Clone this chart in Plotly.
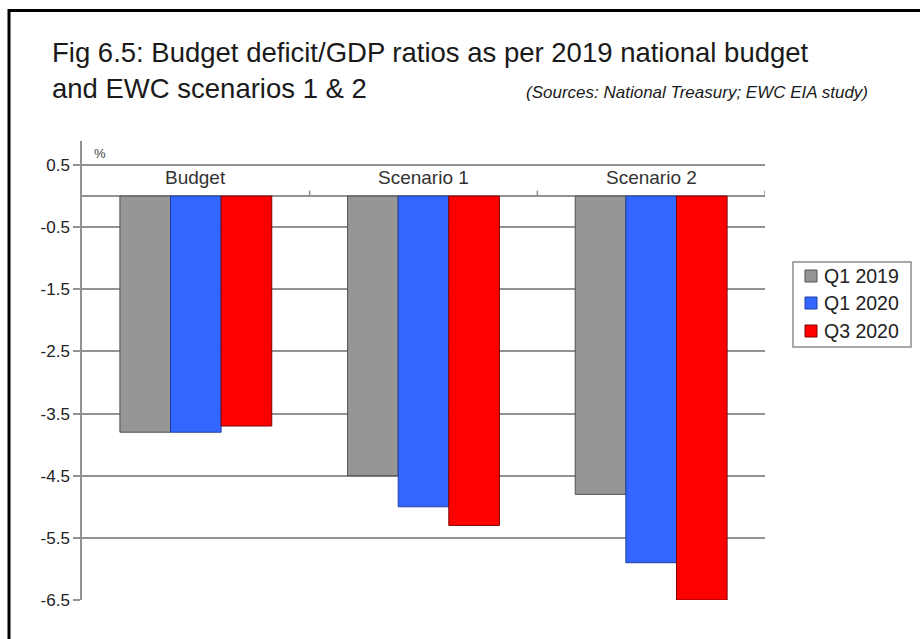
import plotly.graph_objects as go

# Chart data
categories = ["Budget", "Scenario 1", "Scenario 2"]
series_names = ["Q1 2019", "Q1 2020", "Q3 2020"]
q1_2019 = [-3.8, -4.5, -4.8]
q1_2020 = [-3.8, -5.0, -5.9]
q3_2020 = [-3.7, -5.3, -6.5]
y_ticks = [0.5, -0.5, -1.5, -2.5, -3.5, -4.5, -5.5, -6.5]
y_tick_labels = ["0.5", "-0.5", "-1.5", "-2.5", "-3.5", "-4.5", "-5.5", "-6.5"]

W, H = 920, 639
ML, MR, MT, MB = 82, 155, 141, 39
PW, PH = W - ML - MR, H - MT - MB


def px(x):
    return (x - ML) / PW


def py(y):
    return (H - MB - y) / PH


FONT = "Liberation Sans, Arial, sans-serif"
GRID = "#929292"
fills = ["#969696", "#3366FF", "#FF0000"]
edges = ["#505050", "#1f3f9f", "#800000"]
values = [q1_2019, q1_2020, q3_2020]

fig = go.Figure()
for i, (name, vals) in enumerate(zip(series_names, values)):
    fig.add_trace(go.Bar(
        x=list(range(len(categories))),
        y=vals,
        name=name,
        marker=dict(color=fills[i], line=dict(color=edges[i], width=1)),
        showlegend=False,
    ))

shapes = []
# upward tick marks on the zero line at category boundaries
for b in [0.5, 1.5, 2.5]:
    shapes.append(dict(type="line", xref="x", yref="y", x0=b, x1=b, y0=0, y1=0.09,
                       line=dict(color=GRID, width=1.5)))
# frame lines along top and left
shapes.append(dict(type="line", xref="paper", yref="paper",
                   x0=px(8), x1=px(W + 5), y0=py(10.5), y1=py(10.5),
                   line=dict(color="black", width=3)))
shapes.append(dict(type="line", xref="paper", yref="paper",
                   x0=px(9), x1=px(9), y0=py(9), y1=py(H + 5),
                   line=dict(color="black", width=3)))

annotations = []
for i, c in enumerate(categories):
    annotations.append(dict(x=i, y=0.3, xref="x", yref="y", text=c, showarrow=False,
                            font=dict(family=FONT, size=19, color="#333333"),
                            xanchor="center", yanchor="middle"))
annotations.append(dict(x=px(92), y=py(153), xref="paper", yref="paper", text="%",
                        showarrow=False, xanchor="left", yanchor="middle",
                        font=dict(family=FONT, size=13, color="#444444")))
annotations.append(dict(x=px(50), y=py(71), xref="paper", yref="paper",
                        text="Fig 6.5: Budget deficit/GDP ratios as per 2019 national budget"
                             "<br>and EWC scenarios 1 &amp; 2",
                        showarrow=False, xanchor="left", yanchor="middle", align="left",
                        font=dict(family=FONT, size=27.5, color="#1a1a1a")))
annotations.append(dict(x=px(870), y=py(93), xref="paper", yref="paper",
                        text="<i>(Sources: National Treasury; EWC EIA study)</i>",
                        showarrow=False, xanchor="right", yanchor="middle",
                        font=dict(family=FONT, size=17, color="#1a1a1a")))

# legend box with swatches
shapes.append(dict(type="rect", xref="paper", yref="paper",
                   x0=px(793), x1=px(911), y0=py(262), y1=py(347),
                   line=dict(color="#8c8c8c", width=1.5), fillcolor="white"))
legend_rows = [276, 303, 331]
for i, name in enumerate(series_names):
    yc = legend_rows[i]
    shapes.append(dict(type="rect", xref="paper", yref="paper",
                       x0=px(805), x1=px(817), y0=py(yc - 6), y1=py(yc + 6),
                       line=dict(color=edges[i], width=1), fillcolor=fills[i]))
    annotations.append(dict(x=px(822), y=py(yc), xref="paper", yref="paper", text=name,
                            showarrow=False, xanchor="left", yanchor="middle",
                            font=dict(family=FONT, size=19.5, color="#222222")))

fig.update_layout(
    width=W, height=H,
    margin=dict(l=ML, r=MR, t=MT, b=MB, pad=0),
    paper_bgcolor="white", plot_bgcolor="white",
    barmode="group", bargap=0.333, bargroupgap=0,
    showlegend=False,
    xaxis=dict(range=[-0.5, 2.5], showticklabels=False, showgrid=False,
               zeroline=False, showline=False, ticks="", fixedrange=True),
    yaxis=dict(range=[-6.5, 0.5 + 24 / 62.14], tickvals=y_ticks, ticktext=y_tick_labels,
               showgrid=True, gridcolor=GRID, gridwidth=1.5,
               zeroline=True, zerolinecolor=GRID, zerolinewidth=1.5,
               showline=True, linecolor=GRID, linewidth=1.5,
               ticks="outside", ticklen=7, tickcolor=GRID, tickwidth=1.5,
               tickfont=dict(family=FONT, size=17, color="#222222")),
    shapes=shapes, annotations=annotations,
)

fig.write_html("out.html")
